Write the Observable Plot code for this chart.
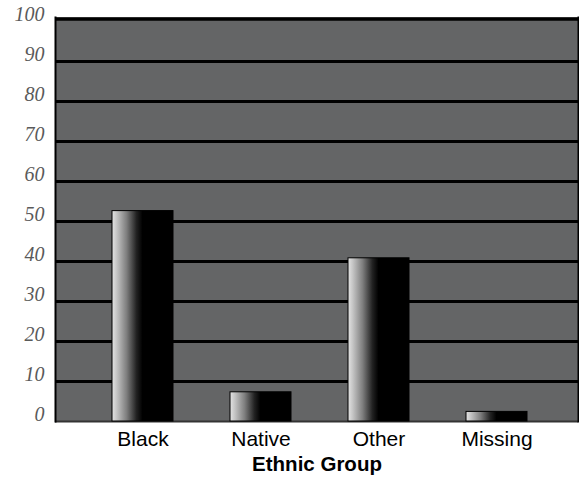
<!DOCTYPE html>
<html>
<head>
<meta charset="utf-8">
<script src="https://cdn.jsdelivr.net/npm/d3@7"></script>
<script src="https://cdn.jsdelivr.net/npm/@observablehq/plot@0.6"></script>
<style>
  html, body { margin: 0; padding: 0; background: #fff; }
  #chart svg { display: block; }
  #chart .ylab, #chart .ylab text { font-style: italic; }
</style>
</head>
<body>
<div id="chart"></div>
<script>
const categories = ["Black", "Native", "Other", "Missing"];
const values = [52.6, 7.3, 40.8, 2.4];
const yTicks = [0, 10, 20, 30, 40, 50, 60, 70, 80, 90, 100];
const gridLines = [10, 20, 30, 40, 50, 60, 70, 80, 90];
const xLabel = "Ethnic Group";

const data = categories.map((c, i) => ({ group: c, value: values[i] }));

const gradientDefs = () => {
  const defs = d3.create("svg:defs");
  const g = defs.append("linearGradient")
    .attr("id", "barGrad")
    .attr("x1", 0).attr("x2", 1).attr("y1", 0).attr("y2", 0);
  [[0, "#e4e4e4"], [0.08, "#c4c4c4"], [0.24, "#7e7e7e"], [0.4, "#222"], [0.5, "#000"], [1, "#000"]]
    .forEach(([o, c]) => g.append("stop").attr("offset", o).attr("stop-color", c));
  return defs.node();
};

const chart = Plot.plot({
  width: 579,
  height: 477,
  marginTop: 17,
  marginBottom: 56,
  marginLeft: 55,
  marginRight: 1,
  style: { background: "#fff", overflow: "visible" },
  x: { domain: categories, paddingInner: 0.48, paddingOuter: 0.44, align: 0.53, label: null },
  y: { domain: [0, 101], label: null, axis: null },
  marks: [
    gradientDefs,
    Plot.frame({ fill: "#646566", stroke: null }),
    Plot.ruleY(gridLines, { stroke: "#000", strokeWidth: 3 }),
    Plot.ruleY([101], { stroke: "#000", strokeWidth: 3.5, dy: 1.5 }),
    Plot.ruleY([0], { stroke: "#333", strokeWidth: 2 }),
    Plot.barY(data, { x: "group", y: "value", fill: "url(#barGrad)", stroke: "#000", strokeWidth: 1 }),
    Plot.frame({ anchor: "left", stroke: "#000", strokeWidth: 2 }),
    Plot.frame({ anchor: "right", stroke: "#000", strokeWidth: 2 }),
    Plot.text(yTicks, {
      y: d => d, frameAnchor: "left", textAnchor: "end", dx: -11, dy: -7,
      text: d => String(d),
      fontFamily: "'Liberation Serif', 'Times New Roman', serif", fontStyle: "italic", fontSize: 20,
      fill: "#5a5a5a", className: "ylab"
    }),
    Plot.axisX({
      tickSize: 0, tickPadding: 10,
      fontFamily: "Liberation Sans", fontSize: 21, fill: "#000", label: null
    }),
    Plot.text([xLabel], {
      frameAnchor: "bottom", dy: 49,
      fontFamily: "Liberation Sans", fontWeight: "bold", fontSize: 20.5, fill: "#000"
    })
  ]
});

document.getElementById("chart").appendChild(chart);
</script>
</body>
</html>
